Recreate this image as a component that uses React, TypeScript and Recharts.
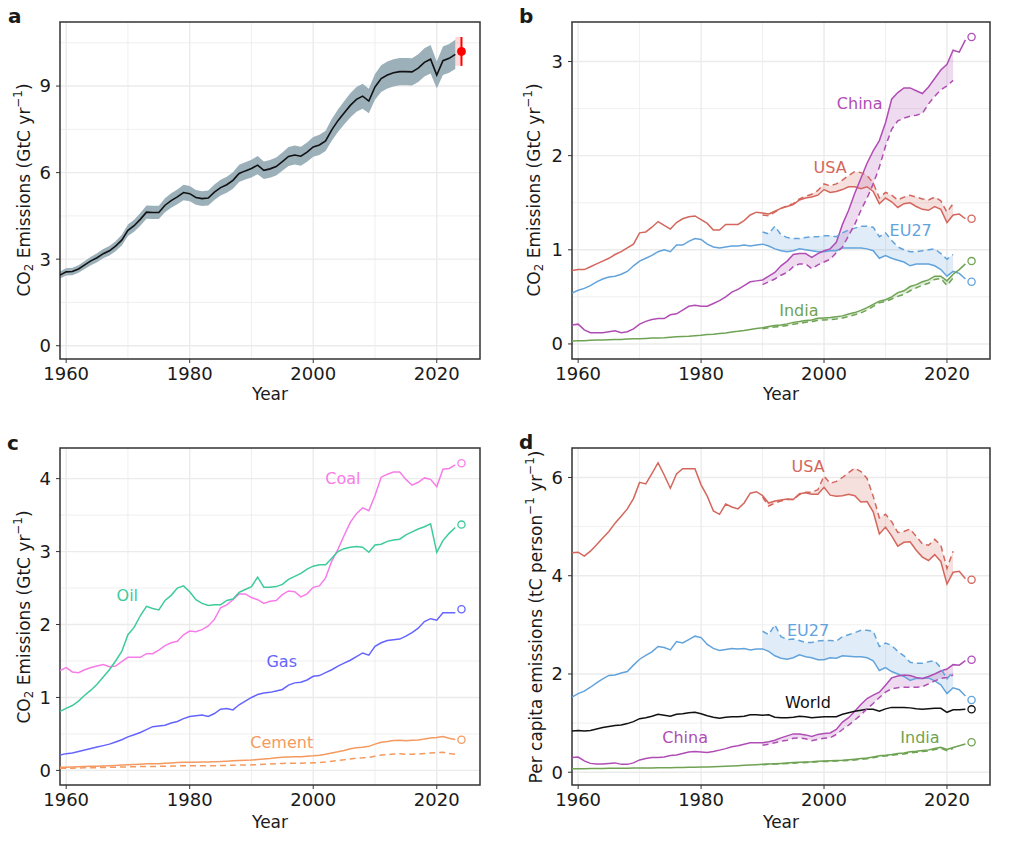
import React from 'react'
import {
  ComposedChart,
  Line,
  Area,
  XAxis,
  YAxis,
  CartesianGrid,
  ReferenceArea,
  ReferenceDot,
  ErrorBar,
} from 'recharts'

// years 1959..2024 (the last year only carries the projection)
const FIRST_YEAR = 1959
const LAST_YEAR = 2024
const CONS_START = 1990
const years: number[] = []
for (let y = FIRST_YEAR; y <= LAST_YEAR; y++) years.push(y)

const X_DOMAIN: [number, number] = [1959, 2027]
const X_TICKS = [1960, 1980, 2000, 2020]
const X_MINOR = [1970, 1990, 2010]

// ---- panel a: global fossil CO2 (GtC/yr), 1959-2023
const fossil = [
  2.45, 2.56, 2.57, 2.66, 2.80, 2.94, 3.05, 3.19, 3.29, 3.45, 3.66,
  4.00, 4.16, 4.38, 4.63, 4.62, 4.62, 4.87, 5.03, 5.16, 5.31,
  5.27, 5.14, 5.10, 5.12, 5.32, 5.48, 5.58, 5.73, 5.97, 6.06,
  6.14, 6.26, 6.08, 6.13, 6.21, 6.38, 6.56, 6.61, 6.57, 6.71,
  6.89, 6.96, 7.10, 7.48, 7.80, 8.07, 8.33, 8.54, 8.65, 8.48,
  8.97, 9.26, 9.38, 9.46, 9.50, 9.50, 9.49, 9.62, 9.82, 9.93,
  9.38, 9.88, 9.96, 10.10,
]
const FOSSIL_UNC = 0.05
const fossilProj = 10.2
const fossilProjErr = 0.5

// ---- panel b: territorial emissions (GtC/yr) 1959-2023, consumption 1990-2021
const usaTerr = [
  0.78, 0.79, 0.79, 0.82, 0.85, 0.88, 0.91, 0.95, 0.98, 1.02, 1.06,
  1.18, 1.19, 1.24, 1.30, 1.26, 1.22, 1.29, 1.33, 1.35, 1.36,
  1.32, 1.28, 1.21, 1.21, 1.27, 1.27, 1.27, 1.31, 1.37, 1.40,
  1.39, 1.38, 1.41, 1.44, 1.46, 1.48, 1.53, 1.55, 1.56, 1.58,
  1.64, 1.61, 1.62, 1.64, 1.67, 1.67, 1.65, 1.67, 1.62, 1.49,
  1.55, 1.51, 1.45, 1.49, 1.50, 1.46, 1.43, 1.42, 1.46, 1.43,
  1.29, 1.37, 1.38, 1.33,
]
const usaCons = [
  1.37, 1.36, 1.40, 1.44, 1.47, 1.49, 1.54, 1.57, 1.59, 1.63,
  1.70, 1.68, 1.70, 1.74, 1.79, 1.83, 1.82, 1.79, 1.71, 1.55,
  1.61, 1.58, 1.53, 1.56, 1.58, 1.56, 1.54, 1.53, 1.56, 1.52,
  1.40, 1.49,
]
const euTerr = [
  0.54, 0.57, 0.59, 0.62, 0.66, 0.69, 0.71, 0.72, 0.74, 0.77, 0.83,
  0.88, 0.91, 0.94, 0.98, 1.00, 0.98, 1.05, 1.05, 1.09, 1.12,
  1.11, 1.06, 1.03, 1.02, 1.03, 1.04, 1.04, 1.05, 1.04, 1.05,
  1.06, 1.04, 1.01, 0.99, 0.98, 0.99, 1.01, 1.00, 0.99, 0.98,
  0.98, 0.99, 0.99, 1.02, 1.02, 1.02, 1.02, 1.01, 0.99, 0.91,
  0.94, 0.91, 0.89, 0.87, 0.83, 0.85, 0.85, 0.85, 0.83, 0.79,
  0.72, 0.77, 0.75, 0.69,
]
const euCons = [
  1.19, 1.17, 1.25, 1.16, 1.13, 1.12, 1.12, 1.13, 1.14, 1.14,
  1.15, 1.15, 1.14, 1.18, 1.21, 1.23, 1.25, 1.25, 1.24, 1.14,
  1.18, 1.10, 1.03, 1.00, 0.98, 0.98, 0.99, 1.00, 1.01, 0.96,
  0.90, 0.95,
]
const chinaTerr = [
  0.20, 0.21, 0.15, 0.12, 0.12, 0.12, 0.13, 0.14, 0.12, 0.13, 0.16,
  0.21, 0.24, 0.26, 0.27, 0.27, 0.31, 0.32, 0.36, 0.40, 0.41,
  0.40, 0.40, 0.43, 0.46, 0.50, 0.55, 0.58, 0.62, 0.66, 0.67,
  0.68, 0.72, 0.76, 0.83, 0.88, 0.95, 0.96, 0.96, 0.92, 0.96,
  0.99, 1.01, 1.08, 1.27, 1.42, 1.60, 1.76, 1.92, 2.05, 2.16,
  2.35, 2.60, 2.67, 2.72, 2.72, 2.69, 2.66, 2.73, 2.82, 2.91,
  2.97, 3.12, 3.10, 3.23,
]
const chinaCons = [
  0.63, 0.66, 0.69, 0.73, 0.76, 0.82, 0.85, 0.85, 0.80, 0.84,
  0.87, 0.90, 0.97, 1.03, 1.15, 1.27, 1.42, 1.55, 1.70, 1.88,
  2.10, 2.28, 2.37, 2.40, 2.42, 2.43, 2.45, 2.55, 2.63, 2.70,
  2.74, 2.80,
]
const indiaTerr = [
  0.030, 0.033, 0.035, 0.038, 0.041, 0.042, 0.045, 0.047, 0.048, 0.052, 0.054,
  0.056, 0.059, 0.062, 0.064, 0.067, 0.072, 0.076, 0.080, 0.082, 0.087,
  0.092, 0.099, 0.104, 0.111, 0.117, 0.127, 0.134, 0.143, 0.154, 0.165,
  0.172, 0.186, 0.195, 0.202, 0.213, 0.229, 0.238, 0.250, 0.255, 0.272,
  0.276, 0.280, 0.289, 0.298, 0.318, 0.333, 0.357, 0.385, 0.420, 0.455,
  0.470, 0.500, 0.545, 0.565, 0.610, 0.630, 0.660, 0.680, 0.720, 0.720,
  0.670, 0.740, 0.790, 0.850,
]
const indiaCons = [
  0.160, 0.172, 0.180, 0.186, 0.196, 0.210, 0.218, 0.230, 0.236, 0.252,
  0.255, 0.258, 0.265, 0.275, 0.292, 0.310, 0.330, 0.360, 0.400, 0.438,
  0.450, 0.478, 0.505, 0.525, 0.565, 0.595, 0.625, 0.645, 0.685, 0.695,
  0.620, 0.700,
]
const countryProj = { usa: 1.33, eu: 0.66, china: 3.26, india: 0.88 }

// ---- panel c: emissions by fuel (GtC/yr) 1959-2023
const coal = [
  1.37, 1.41, 1.35, 1.34, 1.38, 1.41, 1.43, 1.45, 1.42, 1.43, 1.49,
  1.55, 1.55, 1.55, 1.60, 1.60, 1.65, 1.71, 1.75, 1.77, 1.86,
  1.91, 1.90, 1.93, 1.98, 2.07, 2.23, 2.27, 2.34, 2.42, 2.42,
  2.37, 2.34, 2.29, 2.32, 2.33, 2.41, 2.46, 2.45, 2.38, 2.42,
  2.51, 2.53, 2.64, 2.87, 3.03, 3.22, 3.40, 3.52, 3.60, 3.56,
  3.77, 4.02, 4.06, 4.09, 4.09, 3.99, 3.91, 3.95, 4.01, 3.99,
  3.89, 4.13, 4.14, 4.19,
]
const oil = [
  0.81, 0.85, 0.89, 0.95, 1.03, 1.10, 1.18, 1.28, 1.38, 1.50, 1.63,
  1.86, 1.96, 2.12, 2.25, 2.22, 2.20, 2.33, 2.40, 2.50, 2.53,
  2.45, 2.34, 2.29, 2.26, 2.27, 2.27, 2.33, 2.35, 2.44, 2.48,
  2.52, 2.65, 2.51, 2.51, 2.52, 2.55, 2.62, 2.66, 2.70, 2.76,
  2.80, 2.82, 2.82, 2.91, 3.00, 3.04, 3.06, 3.07, 3.06, 2.99,
  3.09, 3.10, 3.14, 3.16, 3.17, 3.23, 3.27, 3.31, 3.34, 3.38,
  2.99, 3.15, 3.25, 3.33,
]
const gas = [
  0.21, 0.23, 0.24, 0.26, 0.28, 0.30, 0.32, 0.34, 0.36, 0.39, 0.42,
  0.46, 0.49, 0.52, 0.56, 0.60, 0.61, 0.62, 0.65, 0.67, 0.71,
  0.74, 0.75, 0.76, 0.74, 0.78, 0.84, 0.85, 0.83, 0.90, 0.95,
  1.00, 1.04, 1.06, 1.07, 1.09, 1.11, 1.17, 1.20, 1.21, 1.24,
  1.29, 1.30, 1.34, 1.38, 1.43, 1.47, 1.51, 1.56, 1.61, 1.58,
  1.70, 1.75, 1.78, 1.79, 1.80, 1.84, 1.89, 1.95, 2.04, 2.08,
  2.06, 2.16, 2.16, 2.16,
]
const cement = [
  0.042, 0.044, 0.046, 0.049, 0.052, 0.056, 0.058, 0.062, 0.065, 0.069, 0.073,
  0.077, 0.081, 0.086, 0.090, 0.092, 0.093, 0.098, 0.103, 0.108, 0.111,
  0.112, 0.113, 0.114, 0.116, 0.119, 0.121, 0.126, 0.131, 0.136, 0.139,
  0.142, 0.148, 0.155, 0.163, 0.173, 0.180, 0.184, 0.187, 0.188, 0.195,
  0.200, 0.209, 0.221, 0.240, 0.256, 0.274, 0.297, 0.312, 0.318, 0.330,
  0.360, 0.385, 0.395, 0.410, 0.415, 0.405, 0.413, 0.418, 0.430, 0.445,
  0.450, 0.465, 0.440, 0.425,
]
const cementNet = [
  0.030, 0.030, 0.031, 0.033, 0.035, 0.037, 0.038, 0.040, 0.042, 0.044, 0.046,
  0.048, 0.050, 0.052, 0.054, 0.055, 0.055, 0.057, 0.059, 0.062, 0.063,
  0.063, 0.063, 0.063, 0.064, 0.065, 0.066, 0.068, 0.071, 0.074, 0.075,
  0.076, 0.079, 0.083, 0.087, 0.092, 0.096, 0.097, 0.098, 0.098, 0.101,
  0.104, 0.108, 0.115, 0.125, 0.135, 0.145, 0.158, 0.168, 0.172, 0.178,
  0.195, 0.210, 0.215, 0.225, 0.228, 0.220, 0.222, 0.225, 0.232, 0.240,
  0.245, 0.250, 0.232, 0.220,
]
const fuelProj = { coal: 4.21, oil: 3.37, gas: 2.21, cement: 0.42 }

// ---- panel d: per capita (tC/person/yr) 1959-2023, consumption 1990-2021
const usaPc = [
  4.47, 4.48, 4.40, 4.50, 4.63, 4.77, 4.90, 5.07, 5.21, 5.36, 5.57,
  5.90, 5.87, 6.08, 6.30, 6.05, 5.78, 6.07, 6.18, 6.18, 6.18,
  5.85, 5.62, 5.32, 5.25, 5.46, 5.40, 5.36, 5.48, 5.68, 5.71,
  5.63, 5.48, 5.52, 5.54, 5.56, 5.55, 5.67, 5.69, 5.66, 5.66,
  5.80, 5.64, 5.62, 5.63, 5.66, 5.63, 5.50, 5.51, 5.30, 4.85,
  4.99, 4.81, 4.60, 4.68, 4.69, 4.52, 4.38, 4.31, 4.43, 4.29,
  3.83, 4.07, 4.09, 3.94,
]
const usaPcCons = [
  5.60, 5.42, 5.48, 5.52, 5.55, 5.55, 5.65, 5.70, 5.70, 5.75,
  6.03, 5.88, 5.92, 6.00, 6.10, 6.19, 6.12, 5.98, 5.62, 5.18,
  5.25, 5.10, 4.88, 4.90, 4.95, 4.80, 4.65, 4.62, 4.74, 4.62,
  4.15, 4.50,
]
const euPc = [
  1.53, 1.60, 1.65, 1.73, 1.82, 1.90, 1.97, 1.98, 2.02, 2.05, 2.18,
  2.30, 2.38, 2.45, 2.56, 2.54, 2.49, 2.66, 2.63, 2.70, 2.77,
  2.74, 2.60, 2.52, 2.48, 2.50, 2.52, 2.51, 2.52, 2.49, 2.51,
  2.51, 2.46, 2.37, 2.32, 2.30, 2.33, 2.39, 2.35, 2.33, 2.29,
  2.29, 2.33, 2.32, 2.37, 2.36, 2.35, 2.35, 2.33, 2.27, 2.07,
  2.13, 2.05, 2.00, 1.95, 1.87, 1.91, 1.91, 1.92, 1.86, 1.78,
  1.60, 1.72, 1.68, 1.55,
]
const euPcCons = [
  2.87, 2.80, 3.00, 2.76, 2.70, 2.71, 2.68, 2.64, 2.64, 2.67,
  2.68, 2.68, 2.67, 2.76, 2.80, 2.84, 2.89, 2.89, 2.87, 2.56,
  2.63, 2.58, 2.46, 2.37, 2.24, 2.22, 2.22, 2.25, 2.27, 2.12,
  1.90, 2.05,
]
const chinaPc = [
  0.30, 0.31, 0.23, 0.18, 0.17, 0.17, 0.18, 0.19, 0.16, 0.16, 0.19,
  0.25, 0.28, 0.30, 0.30, 0.31, 0.34, 0.35, 0.38, 0.41, 0.42,
  0.41, 0.40, 0.42, 0.45, 0.48, 0.52, 0.54, 0.57, 0.60, 0.60,
  0.60, 0.62, 0.65, 0.70, 0.74, 0.78, 0.78, 0.76, 0.73, 0.77,
  0.79, 0.80, 0.87, 1.02, 1.11, 1.24, 1.38, 1.50, 1.57, 1.63,
  1.77, 1.92, 1.96, 1.98, 1.97, 1.93, 1.91, 1.95, 2.00, 2.06,
  2.10, 2.19, 2.18, 2.27,
]
const chinaPcCons = [
  0.55, 0.57, 0.60, 0.63, 0.65, 0.69, 0.70, 0.68, 0.64, 0.67,
  0.69, 0.70, 0.77, 0.87, 0.96, 1.06, 1.17, 1.29, 1.40, 1.52,
  1.63, 1.70, 1.72, 1.73, 1.73, 1.73, 1.74, 1.80, 1.86, 1.91,
  1.93, 1.98,
]
const indiaPc = [
  0.070, 0.072, 0.073, 0.075, 0.076, 0.077, 0.079, 0.080, 0.081, 0.083, 0.084,
  0.085, 0.086, 0.088, 0.089, 0.091, 0.093, 0.095, 0.097, 0.099, 0.101,
  0.104, 0.108, 0.112, 0.117, 0.122, 0.128, 0.134, 0.140, 0.147, 0.154,
  0.160, 0.168, 0.174, 0.180, 0.188, 0.196, 0.203, 0.210, 0.215, 0.224,
  0.230, 0.235, 0.240, 0.246, 0.256, 0.266, 0.278, 0.292, 0.312, 0.334,
  0.345, 0.360, 0.380, 0.392, 0.415, 0.425, 0.440, 0.455, 0.485, 0.510,
  0.465, 0.505, 0.540, 0.575,
]
const indiaPcCons = [
  0.153, 0.161, 0.165, 0.170, 0.178, 0.185, 0.192, 0.198, 0.203, 0.212,
  0.218, 0.222, 0.226, 0.232, 0.240, 0.250, 0.262, 0.276, 0.296, 0.318,
  0.330, 0.342, 0.360, 0.370, 0.392, 0.405, 0.420, 0.435, 0.462, 0.485,
  0.440, 0.480,
]
const worldPc = [
  0.84, 0.85, 0.84, 0.85, 0.88, 0.91, 0.93, 0.95, 0.96, 0.99, 1.03,
  1.09, 1.11, 1.14, 1.18, 1.16, 1.14, 1.18, 1.19, 1.21, 1.22,
  1.19, 1.15, 1.12, 1.10, 1.12, 1.13, 1.13, 1.14, 1.17, 1.17,
  1.16, 1.17, 1.12, 1.11, 1.11, 1.12, 1.14, 1.13, 1.11, 1.12,
  1.13, 1.13, 1.13, 1.18, 1.21, 1.24, 1.26, 1.28, 1.28, 1.24,
  1.29, 1.32, 1.32, 1.32, 1.31, 1.29, 1.28, 1.29, 1.30, 1.30,
  1.22, 1.27, 1.27, 1.28,
]
const pcProj = { usa: 3.92, eu: 1.47, china: 2.29, india: 0.61, world: 1.28 }

const COL = {
  usa: '#d4665c',
  eu: '#62a3dc',
  china: '#b04db5',
  india: '#6fa353',
  world: '#111111',
  coal: '#f77ce8',
  oil: '#3ecb9a',
  gas: '#6464ff',
  cement: '#f49a60',
}

type Series = {
  key: string
  color: string
  values: number[]
  cons?: number[]
  proj?: number
  dashed?: boolean
}

type Row = Record<string, number | number[] | undefined>

function buildRows(series: Series[]): Row[] {
  return years.map((year, i) => {
    const row: Row = { year }
    for (const s of series) {
      const v = s.values[i]
      if (v != null) row[s.key] = v
      const j = year - CONS_START
      if (s.cons && j >= 0 && j < s.cons.length) {
        row[s.key + 'Cons'] = s.cons[j]
        row[s.key + 'Band'] = [s.cons[j], v]
      }
      if (s.proj != null && year === LAST_YEAR) row[s.key + 'Proj'] = s.proj
    }
    return row
  })
}

function seriesElements(series: Series[]) {
  const bands = series
    .filter((s) => s.cons)
    .map((s) => (
      <Area
        key={s.key + 'Band'}
        dataKey={s.key + 'Band'}
        stroke="none"
        fill={s.color}
        fillOpacity={0.2}
        dot={false}
        activeDot={false}
        isAnimationActive={false}
      />
    ))
  const lines = series.map((s) => (
    <Line
      key={s.key}
      dataKey={s.key}
      stroke={s.color}
      strokeWidth={1.5}
      strokeDasharray={s.dashed ? '6 4' : undefined}
      dot={false}
      activeDot={false}
      isAnimationActive={false}
    />
  ))
  const cons = series
    .filter((s) => s.cons)
    .map((s) => (
      <Line
        key={s.key + 'Cons'}
        dataKey={s.key + 'Cons'}
        stroke={s.color}
        strokeWidth={1.5}
        strokeDasharray="6 4"
        dot={false}
        activeDot={false}
        isAnimationActive={false}
      />
    ))
  const projs = series
    .filter((s) => s.proj != null)
    .map((s) => (
      <Line
        key={s.key + 'Proj'}
        dataKey={s.key + 'Proj'}
        stroke="none"
        dot={{ r: 3.6, fill: '#fff', stroke: s.color, strokeWidth: 1.3 }}
        activeDot={false}
        isAnimationActive={false}
      />
    ))
  return [...bands, ...lines, ...cons, ...projs]
}

type Lbl = { text: string; color: string; x: number; y: number }

function labelElements(labels: Lbl[]) {
  return labels.map((l) => (
    <ReferenceDot
      key={l.text}
      x={l.x}
      y={l.y}
      r={1}
      fill="none"
      stroke="none"
      ifOverflow="visible"
      label={{ value: l.text, position: 'center', fill: l.color, fontSize: 16 }}
    />
  ))
}

const seriesB: Series[] = [
  { key: 'usa', color: COL.usa, values: usaTerr, cons: usaCons, proj: countryProj.usa },
  { key: 'eu', color: COL.eu, values: euTerr, cons: euCons, proj: countryProj.eu },
  { key: 'china', color: COL.china, values: chinaTerr, cons: chinaCons, proj: countryProj.china },
  { key: 'india', color: COL.india, values: indiaTerr, cons: indiaCons, proj: countryProj.india },
]
const seriesC: Series[] = [
  { key: 'coal', color: COL.coal, values: coal, proj: fuelProj.coal },
  { key: 'oil', color: COL.oil, values: oil, proj: fuelProj.oil },
  { key: 'gas', color: COL.gas, values: gas, proj: fuelProj.gas },
  { key: 'cement', color: COL.cement, values: cement, proj: fuelProj.cement },
  { key: 'cementNet', color: COL.cement, values: cementNet, dashed: true },
]
const seriesD: Series[] = [
  { key: 'usa', color: COL.usa, values: usaPc, cons: usaPcCons, proj: pcProj.usa },
  { key: 'eu', color: COL.eu, values: euPc, cons: euPcCons, proj: pcProj.eu },
  { key: 'china', color: COL.china, values: chinaPc, cons: chinaPcCons, proj: pcProj.china },
  { key: 'india', color: COL.india, values: indiaPc, cons: indiaPcCons, proj: pcProj.india },
  { key: 'world', color: COL.world, values: worldPc, proj: pcProj.world },
]

const labelsB: Lbl[] = [
  { text: 'China', color: COL.china, x: 2005.8, y: 2.56 },
  { text: 'USA', color: COL.usa, x: 2001.0, y: 1.88 },
  { text: 'EU27', color: COL.eu, x: 2014.1, y: 1.21 },
  { text: 'India', color: COL.india, x: 1995.9, y: 0.36 },
]
const labelsC: Lbl[] = [
  { text: 'Coal', color: COL.coal, x: 2004.8, y: 4.01 },
  { text: 'Oil', color: COL.oil, x: 1969.9, y: 2.4 },
  { text: 'Gas', color: COL.gas, x: 1994.9, y: 1.49 },
  { text: 'Cement', color: COL.cement, x: 1994.9, y: 0.39 },
]
const labelsD: Lbl[] = [
  { text: 'USA', color: COL.usa, x: 1997.4, y: 6.22 },
  { text: 'EU27', color: COL.eu, x: 1997.4, y: 2.88 },
  { text: 'World', color: COL.world, x: 1997.4, y: 1.43 },
  { text: 'China', color: COL.china, x: 1977.4, y: 0.72 },
  { text: 'India', color: COL.india, x: 2015.6, y: 0.72 },
]

const dataA: Row[] = years.map((year, i) => {
  const row: Row = { year }
  const v = fossil[i]
  if (v != null) {
    row.fossil = v
    row.band = [v * (1 - FOSSIL_UNC), v * (1 + FOSSIL_UNC)]
  }
  if (year >= LAST_YEAR - 1) row.projBand = [fossilProj - fossilProjErr, fossilProj + fossilProjErr]
  if (year === LAST_YEAR) {
    row.proj = fossilProj
    row.projErr = fossilProjErr
  }
  return row
})

const tickStyle = { fontSize: 18, fill: '#1a1a1a' }

type FrameProps = {
  left: number
  top: number
  width: number
  right: number
  yWidth: number
  yDomain: [number, number]
  yTicks: number[]
  yMinor: number[]
  data: Row[]
  children: React.ReactNode
}

function Frame({ left, top, width, right, yWidth, yDomain, yTicks, yMinor, data, children }: FrameProps) {
  return (
    <div style={{ position: 'absolute', left, top }}>
      <ComposedChart width={width} height={409} data={data} margin={{ top: 22, right, bottom: 0, left: 0 }}>
        <CartesianGrid stroke="#ebebeb" strokeWidth={0.8} horizontalValues={yMinor} verticalValues={X_MINOR} />
        <CartesianGrid stroke="#ebebeb" strokeWidth={1.4} horizontalValues={yTicks} verticalValues={X_TICKS} />
        <XAxis
          type="number"
          dataKey="year"
          domain={X_DOMAIN}
          ticks={X_TICKS}
          interval={0}
          allowDataOverflow
          height={50}
          axisLine={false}
          tickLine={{ stroke: '#333' }}
          tickSize={4}
          tickMargin={4}
          tick={tickStyle}
        />
        <YAxis
          type="number"
          domain={yDomain}
          ticks={yTicks}
          interval={0}
          allowDataOverflow
          width={yWidth}
          axisLine={false}
          tickLine={{ stroke: '#333' }}
          tickSize={4}
          tickMargin={5}
          tick={tickStyle}
        />
        {children}
        <ReferenceArea
          x1={X_DOMAIN[0]}
          x2={X_DOMAIN[1]}
          y1={yDomain[0]}
          y2={yDomain[1]}
          fill="none"
          stroke="#333"
          strokeWidth={1.5}
          ifOverflow="visible"
        />
      </ComposedChart>
    </div>
  )
}

const subStyle: React.CSSProperties = { fontSize: '0.7em', verticalAlign: '-0.3em', lineHeight: 0 }
const supStyle: React.CSSProperties = { fontSize: '0.7em', verticalAlign: '0.6em', lineHeight: 0 }

function YTitle({ cx, cy, children }: { cx: number; cy: number; children: React.ReactNode }) {
  return (
    <div
      style={{
        position: 'absolute',
        left: cx,
        top: cy,
        transform: 'translate(-50%, -50%) rotate(-90deg)',
        whiteSpace: 'nowrap',
        fontSize: 17,
        lineHeight: 1,
      }}
    >
      {children}
    </div>
  )
}

function XTitle({ cx, cy }: { cx: number; cy: number }) {
  return (
    <div
      style={{
        position: 'absolute',
        left: cx,
        top: cy,
        transform: 'translate(-50%, -50%)',
        fontSize: 17,
        lineHeight: 1,
      }}
    >
      Year
    </div>
  )
}

function Letter({ x, y, text }: { x: number; y: number; text: string }) {
  return (
    <div style={{ position: 'absolute', left: x, top: y, fontSize: 20, fontWeight: 'bold', lineHeight: 1 }}>
      {text}
    </div>
  )
}

const co2Title = (
  <>
    CO<span style={subStyle}>2</span> Emissions (GtC yr<span style={supStyle}>−1</span>)
  </>
)

export default function App() {
  return (
    <div
      style={{
        position: 'absolute',
        left: 0,
        top: 0,
        width: 1024,
        height: 853,
        background: '#fff',
        color: '#1a1a1a',
        fontFamily: '"DejaVu Sans", sans-serif',
        overflow: 'hidden',
      }}
    >
      <Frame
        left={0}
        top={0}
        width={500}
        right={20}
        yWidth={60}
        yDomain={[-0.46, 11.22]}
        yTicks={[0, 3, 6, 9]}
        yMinor={[1.5, 4.5, 7.5, 10.5]}
        data={dataA}
      >
        <Area dataKey="band" stroke="none" fill="#9cb0ba" fillOpacity={1} dot={false} activeDot={false} isAnimationActive={false} />
        <Area dataKey="projBand" stroke="none" fill="#ff0000" fillOpacity={0.15} dot={false} activeDot={false} isAnimationActive={false} />
        <Line dataKey="fossil" stroke="#111" strokeWidth={1.6} dot={false} activeDot={false} isAnimationActive={false} />
        <Line
          dataKey="proj"
          stroke="none"
          dot={{ r: 4, fill: '#ff0000', stroke: '#ff0000' }}
          activeDot={false}
          isAnimationActive={false}
        >
          <ErrorBar dataKey="projErr" direction="y" width={0} stroke="#ff0000" strokeWidth={2} />
        </Line>
      </Frame>

      <Frame
        left={500}
        top={0}
        width={524}
        right={34}
        yWidth={72}
        yDomain={[-0.16, 3.42]}
        yTicks={[0, 1, 2, 3]}
        yMinor={[0.5, 1.5, 2.5]}
        data={buildRows(seriesB)}
      >
        {seriesElements(seriesB)}
        {labelElements(labelsB)}
      </Frame>

      <Frame
        left={0}
        top={426}
        width={500}
        right={20}
        yWidth={60}
        yDomain={[-0.2, 4.42]}
        yTicks={[0, 1, 2, 3, 4]}
        yMinor={[0.5, 1.5, 2.5, 3.5]}
        data={buildRows(seriesC)}
      >
        {seriesElements(seriesC)}
        {labelElements(labelsC)}
      </Frame>

      <Frame
        left={500}
        top={426}
        width={524}
        right={34}
        yWidth={72}
        yDomain={[-0.26, 6.6]}
        yTicks={[0, 2, 4, 6]}
        yMinor={[1, 3, 5]}
        data={buildRows(seriesD)}
      >
        {seriesElements(seriesD)}
        {labelElements(labelsD)}
      </Frame>

      <Letter x={8} y={6} text="a" />
      <Letter x={519} y={6} text="b" />
      <Letter x={7} y={433} text="c" />
      <Letter x={519} y={432} text="d" />

      <YTitle cx={24} cy={190}>{co2Title}</YTitle>
      <YTitle cx={534} cy={190}>{co2Title}</YTitle>
      <YTitle cx={24} cy={617}>{co2Title}</YTitle>
      <YTitle cx={536} cy={617}>
        Per capita emissions (tC person<span style={supStyle}>−1</span> yr<span style={supStyle}>−1</span>)
      </YTitle>

      <XTitle cx={270} cy={394} />
      <XTitle cx={781} cy={394} />
      <XTitle cx={270} cy={822} />
      <XTitle cx={781} cy={822} />
    </div>
  )
}
